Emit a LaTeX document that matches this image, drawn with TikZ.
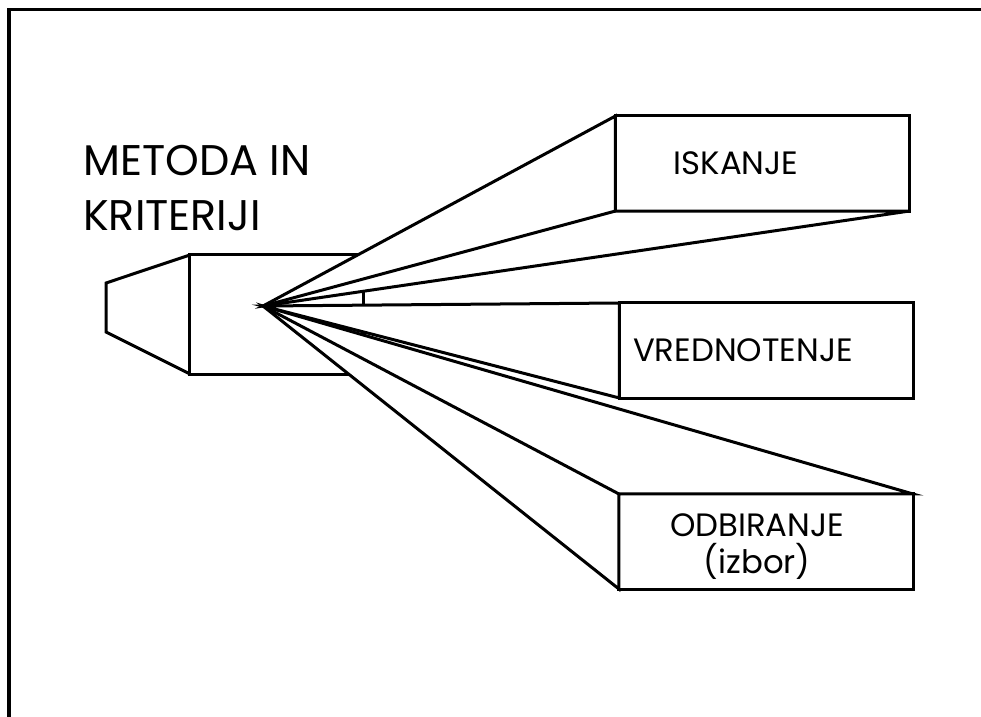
\documentclass[tikz,border=0pt]{standalone}
\usepackage{fontspec}
\setmainfont{Poppins}
\usetikzlibrary{calc}

\tikzset{
  stroke/.style={line width=0.075cm, line join=miter},
  beam/.style={stroke, fill=white},
  target/.style={draw, stroke, fill=white, inner sep=0pt, outer sep=0pt,
    minimum width=7.35cm, minimum height=2.375cm},
  caption/.style={font=\fontsize{23}{26.5}\selectfont, align=center},
  heading/.style={font=\fontsize{30.5}{39}\selectfont, align=left, inner sep=0pt}
}

\begin{document}
\begin{tikzpicture}[x=0.025cm, y=-0.025cm]
        \useasboundingbox (0,0) rectangle (981,717);
        \draw[stroke] (981,9) -- (9,9) -- (9,717);

        \node[heading, anchor=north west] (title) at (83,145) {METODA IN\\KRITERIJI};

        % projector body
        \node[draw, stroke, inner sep=0pt, outer sep=0pt, minimum width=4.325cm,
            minimum height=2.975cm] (body) at (276.5,314.5) {};
        \draw[stroke] (body.north west) -- (106,283) -- (106,332) -- (body.south west);
        \coordinate (apex) at (263,306);

        \node[target, label={[caption, xshift=-0.66cm]center:ISKANJE}] (iskanje) at (762.5,163.5) {};
        \node[target, label={[caption, xshift=-0.59cm]center:VREDNOTENJE}] (vrednotenje) at (766.5,350.5) {};
        \node[target, label={[caption, xshift=-0.22cm, yshift=-0.12cm]center:ODBIRANJE\\(izbor)}] (odbiranje) at (766,541.5) {};

        % beams
        \filldraw[beam] (apex) -- (iskanje.north west) -- (iskanje.south west) -- (iskanje.south east) -- cycle;
        \draw[stroke] (apex) -- (iskanje.south west);
        \filldraw[beam] (apex) -- (vrednotenje.north west) -- (vrednotenje.south west) -- cycle;
        \filldraw[beam] (apex) -- (odbiranje.north east) -- (odbiranje.north west) -- (odbiranje.south west) -- cycle;
        \draw[stroke] (apex) -- (odbiranje.north west);
    \end{tikzpicture}
\end{document}
